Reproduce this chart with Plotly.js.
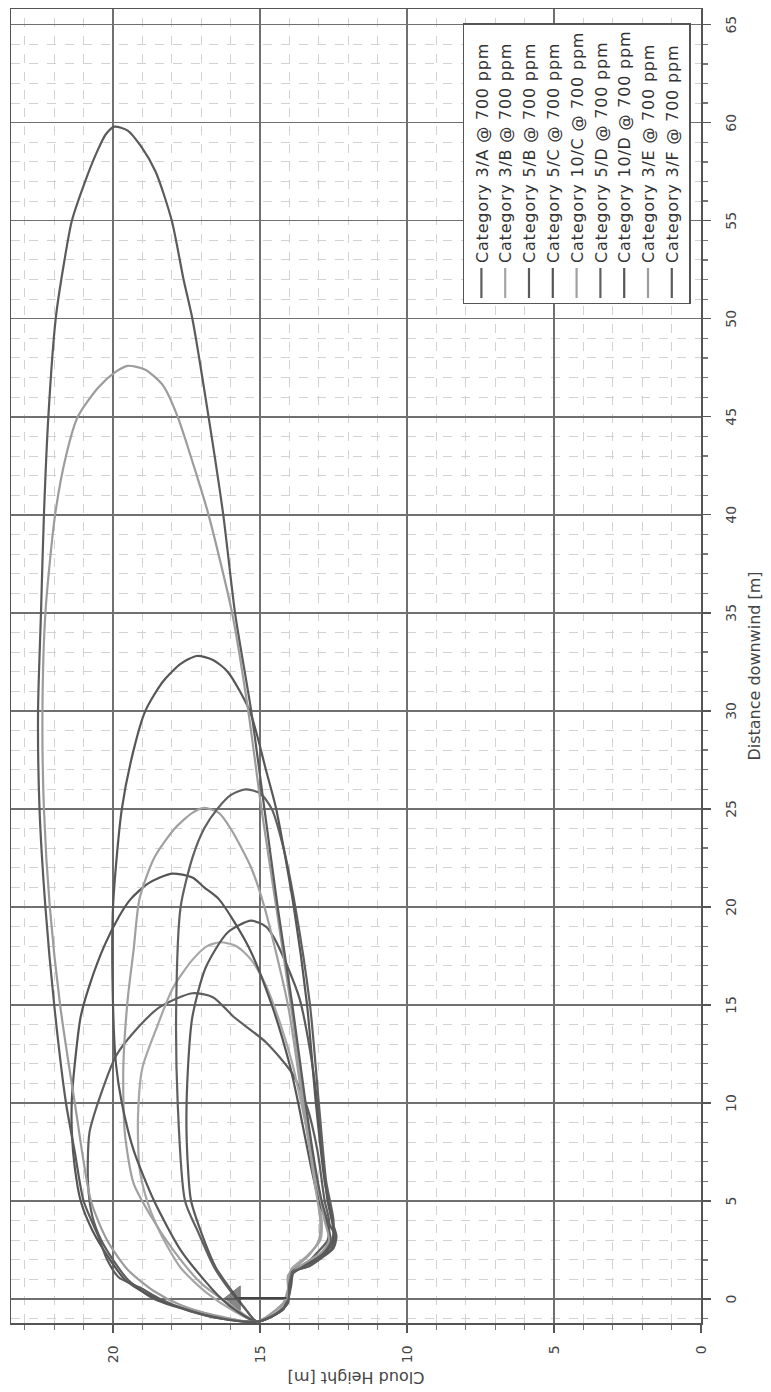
<!DOCTYPE html>
<html><head><meta charset="utf-8">
<script src="https://cdn.plot.ly/plotly-3.0.1.min.js"></script>
<style>
html,body{margin:0;padding:0;overflow:hidden;background:#fff;width:771px;height:1392px;}
#wrap{position:absolute;left:0;top:0;width:1392px;height:771px;transform-origin:0 0;}
#wrap.rot{transform:translate(0px,1392px) rotate(-90deg);}
.legendtext{letter-spacing:0.8px;}
</style></head>
<body><div id="wrap"><div id="chart" style="width:1392px;height:771px"></div></div>
<script>
// Series names (legend order)
var seriesNames = [
  "Category 3/A @ 700 ppm", "Category 3/B @ 700 ppm", "Category 5/B @ 700 ppm",
  "Category 5/C @ 700 ppm", "Category 10/C @ 700 ppm", "Category 5/D @ 700 ppm",
  "Category 10/D @ 700 ppm", "Category 3/E @ 700 ppm", "Category 3/F @ 700 ppm"
];

// Each cloud contour: distance downwind [m] and cloud height [m]
var d3A = [-1.15,-1.0,-0.6,0,1,2,3,4.2,5.9,8.5,10.5,12.4,13.6,14.9,15.6,15.4,14.4,13.1,11.5,9.8,7.6,5,4,3,2.3,1.7,1.4,0.5,-0.5,-1.15];
var h3A = [15.1,16.3,17.4,18.6,19.5,20.0,20.4,20.7,20.85,20.8,20.4,19.9,19.3,18.4,17.3,16.6,15.9,14.8,13.9,13.4,13.05,12.8,12.65,12.7,13.1,13.5,13.9,14.0,14.2,15.1];

var d3B = [-1.15,-0.6,0.3,1.6,3.4,5.05,6.7,9.3,11.8,13.9,15.9,17.3,18.0,18.2,18.0,17.3,16,14,12,10,7,5,4,3,2.2,1.5,0.5,-0.5,-1.15];
var h3B = [15.1,15.9,16.8,17.7,18.4,18.85,19.1,19.15,19.0,18.5,17.95,17.3,16.8,16.35,15.8,15.3,14.8,14.3,13.9,13.6,13.2,13.0,12.9,12.95,13.4,13.95,14.05,14.3,15.1];

var d5B = [-1.15,-0.6,0.3,1.6,3.4,5.05,8.5,11.8,14.4,16.9,18.7,19.3,19.0,18.5,16.9,15.3,12.7,10,7,5,4,3.2,2.6,2.1,1.7,1.4,0.6,-0.4,-1.15];
var h5B = [15.1,15.45,15.9,16.5,17.0,17.35,17.5,17.45,17.3,16.85,16.1,15.3,14.8,14.55,14.05,13.65,13.3,13.05,12.85,12.7,12.55,12.4,12.5,12.9,13.3,13.85,13.95,14.15,15.1];

var d5C = [-1.15,-1.0,-0.7,-0.3,0.3,1.0,2.0,3.5,5,6.7,8.5,10.2,12,14.4,16,18,19.5,20.4,21.2,21.7,21.5,21,20.4,18,15,12,10,7,5,4,3,2.4,1.9,1.4,0.5,-0.5,-1.15];
var h5C = [15.1,16.2,17.0,18.0,18.9,19.6,20.1,20.7,21.1,21.3,21.4,21.4,21.3,21.1,20.8,20.3,19.8,19.4,18.8,18.0,17.3,16.9,16.4,15.4,14.6,14.0,13.7,13.3,13.0,12.75,12.6,12.8,13.2,13.9,14.0,14.2,15.1];

var d10C = [-1.15,-0.4,0.8,2.5,4.2,5.9,8.5,11.8,15.3,17.8,20.4,22.5,24,24.8,25.05,24.8,24,22,20,15,10,6,4,3,2.3,1.6,1.2,0.4,-0.5,-1.15];
var h10C = [15.1,15.9,17.0,17.95,18.7,19.3,19.6,19.65,19.5,19.3,19.1,18.6,17.9,17.3,16.9,16.4,16.0,15.3,14.85,14.05,13.55,13.15,12.95,13.0,13.3,13.8,14.05,14.05,14.3,15.1];

var d5D = [-1.15,-0.5,0.3,1.6,3.4,5,10,15,20,22.5,24,25,25.7,26.0,25.8,25,23,20,15,10,6,4,3,2.2,1.6,1.2,0.3,-0.5,-1.15];
var h5D = [15.1,15.5,15.95,16.55,17.1,17.55,17.8,17.85,17.7,17.3,16.9,16.45,16.0,15.5,15.0,14.6,14.2,13.8,13.3,13.0,12.75,12.5,12.55,13.0,13.6,13.95,14.0,14.2,15.1];

var d10D = [-1.15,-0.6,0,0.8,2.5,5,7.6,10,12,15,20,25,28,30,31.5,32.4,32.8,32.6,32,30,27,25,20,15,10,6,4,3,2.3,1.8,1.4,0.5,-0.5,-1.15];
var h10D = [15.1,15.8,16.3,16.8,17.7,18.6,19.3,19.7,19.9,20.0,20.0,19.7,19.3,18.9,18.3,17.7,17.15,16.6,16.1,15.35,14.8,14.45,13.85,13.4,13.1,12.8,12.55,12.5,12.8,13.4,13.9,14.0,14.2,15.1];

var d3E = [-1.15,-0.8,-0.3,0.4,1.5,3,5,10,15,20,25,30,35,40,43,45,46.5,47.3,47.6,47.4,46.6,45,42,40,35,30,25,20,15,10,6,4,3,2.4,2,1.5,1,0,-0.6,-1.15];
var h3E = [15.1,16.6,17.7,18.6,19.5,20.2,20.75,21.3,21.8,22.15,22.35,22.4,22.3,21.97,21.6,21.2,20.5,19.9,19.5,18.9,18.3,17.8,17.15,16.75,15.95,15.4,14.95,14.45,13.95,13.5,13.05,12.8,12.65,12.9,13.3,13.8,14.0,14.1,14.5,15.1];

var d3F = [-1.15,-1.0,-0.6,0,0.6,1.1,2,3.2,5,7.5,10,15,20,25,30,35,40,45,50,53,55,57,58.5,59.4,59.8,59.6,58.8,57.5,55,52,50,45,40,35,30,25,20,15,10,7,5,4,3.2,2.5,2.1,1.7,1.4,0.8,-0.2,-0.8,-1.15];
var h3F = [15.1,16.3,17.4,18.4,19.1,19.8,20.2,20.5,21.0,21.3,21.6,22.0,22.3,22.5,22.55,22.45,22.35,22.2,21.95,21.65,21.4,20.95,20.55,20.25,19.95,19.5,19.05,18.55,18.0,17.6,17.3,16.75,16.25,15.85,15.3,14.85,14.4,13.9,13.45,13.15,12.9,12.7,12.45,12.6,13.0,13.3,13.85,14.0,14.05,14.5,15.1];

// Release point marker
var srcD = [0.05, 0.05];
var srcH = [14.1, 15.85];

var seriesD = [d3A, d3B, d5B, d5C, d10C, d5D, d10D, d3E, d3F];
var seriesH = [h3A, h3B, h5B, h5C, h10C, h5D, h10D, h3E, h3F];
var lineColors = ["#5e5e5e", "#a6a6a6", "#5a5a5a", "#555555", "#a0a0a0", "#606060", "#575757", "#9c9c9c", "#5b5b5b"];

var FONT = "DejaVu Sans, Liberation Sans, sans-serif";
var traces = seriesNames.map(function (n, i) {
  return {
    type: "scatter", mode: "lines", name: n,
    x: seriesD[i], y: seriesH[i],
    line: {color: lineColors[i], width: 2.2, shape: "spline", smoothing: 0.7}
  };
});
traces.push({
  type: "scatter", mode: "lines+markers", showlegend: false,
  x: srcD, y: srcH,
  line: {color: "#444", width: 2},
  marker: {symbol: "triangle-up", size: [0, 21], color: "#555"}
});

var axisCommon = {
  tick0: 0, dtick: 5, ticks: "outside", ticklen: 8, tickwidth: 1.3, tickcolor: "#555",
  showline: true, linecolor: "#555", linewidth: 1.5, mirror: true,
  showgrid: true, gridcolor: "#707070", gridwidth: 1.4, zeroline: false,
  tickfont: {family: FONT, size: 14, color: "#444"},
  minor: {dtick: 1, ticks: "outside", ticklen: 5, tickcolor: "#777",
          showgrid: true, gridcolor: "#d2d2d2", gridwidth: 1, griddash: "dash"}
};

var layout = {
  width: 1392, height: 771,
  margin: {l: 69, r: 9, t: 11, b: 70},
  paper_bgcolor: "#fff", plot_bgcolor: "#fff",
  font: {family: FONT, color: "#444"},
  xaxis: Object.assign({}, axisCommon, {
    range: [-1.22, 65.8], ticklabelstandoff: 9,
    title: {text: "Distance downwind [m]", font: {family: FONT, size: 16, color: "#444"}, standoff: 10}
  }),
  yaxis: Object.assign({}, axisCommon, {
    range: [0, 23.47], ticklabelstandoff: 10,
    title: {text: "Cloud Height [m]", font: {family: FONT, size: 16, color: "#444"}, standoff: 4}
  }),
  legend: {
    x: 0.989, xanchor: "right", y: 0.0145, yanchor: "bottom",
    bgcolor: "#fff", bordercolor: "#555", borderwidth: 1.5,
    font: {family: FONT, size: 16, color: "#333"}, tracegroupgap: 0
  },
  showlegend: true
};

Plotly.newPlot("chart", traces, layout, {displayModeBar: false, staticPlot: true}).then(function () {
  document.getElementById("wrap").className = "rot";
});
</script>
</body></html>
